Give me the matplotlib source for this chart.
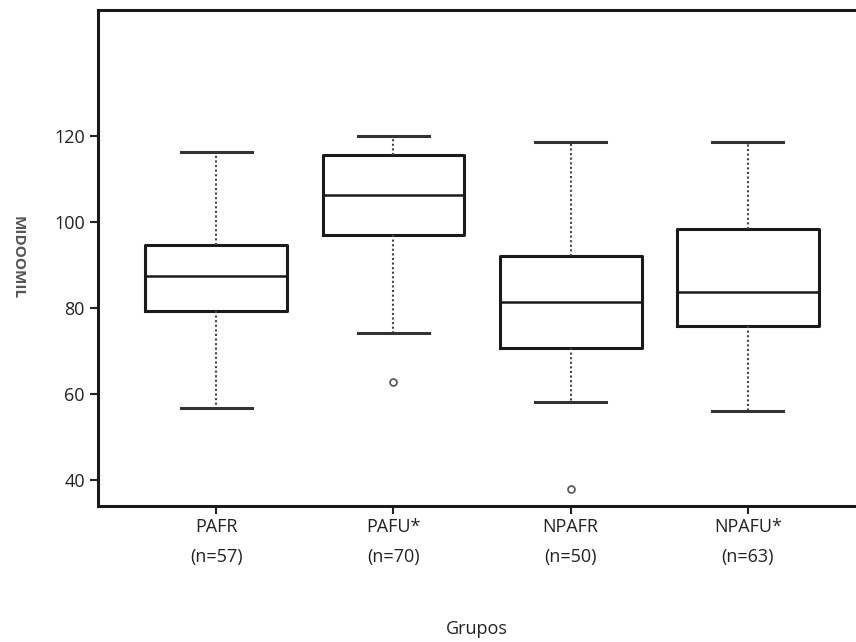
import matplotlib
matplotlib.use("Agg")
import matplotlib.pyplot as plt

plt.rcParams['font.family'] = ['Open Sans', 'DejaVu Sans']

categories = ["PAFR\n(n=57)", "PAFU*\n(n=70)", "NPAFR\n(n=50)", "NPAFU*\n(n=63)"]
whisker_low = [56.7, 74.2, 58.1, 56.0]
q1 = [79.3, 97.0, 70.7, 75.8]
median = [87.4, 106.3, 81.4, 83.7]
q3 = [94.6, 115.6, 92.1, 98.4]
whisker_high = [116.3, 120.0, 118.6, 118.6]
outliers = [[], [62.8], [37.9], []]
y_ticks = [40, 60, 80, 100, 120]

stats = []
for i in range(len(categories)):
    stats.append(dict(whislo=whisker_low[i], q1=q1[i], med=median[i], q3=q3[i],
                      whishi=whisker_high[i], fliers=outliers[i], label=categories[i]))

fig = plt.figure(figsize=(8.56, 6.42), dpi=100)
ax = fig.add_axes([98/856, 136/642, 1 - 98/856, (506-10)/642])

ax.bxp(stats, positions=[1, 2, 3, 4], widths=0.8,
       boxprops=dict(color='#1a1a1a', linewidth=2.2),
       medianprops=dict(color='#1a1a1a', linewidth=1.8),
       whiskerprops=dict(color='#444444', linewidth=1.5, linestyle=(0, (1.0, 1.2))),
       capprops=dict(color='#333333', linewidth=2.2),
       flierprops=dict(marker='o', markersize=5, markerfacecolor='white',
                       markeredgecolor='#555555', markeredgewidth=1.2),
       capwidths=0.4)

ax.set_xlim(0.333, 4.61)
ax.set_ylim(33.95, 149.3)
ax.set_yticks(y_ticks)
ax.set_yticklabels([str(v) for v in y_ticks], fontsize=13, color='#222222')
ax.set_xticks([1, 2, 3, 4])
ax.set_xticklabels(categories, fontsize=13, color='#222222', linespacing=1.8)
ax.tick_params(axis='both', direction='out', length=6, width=1.5, color='#222222')
ax.tick_params(axis='x', pad=3)

for s in ['left', 'top', 'bottom']:
    ax.spines[s].set_linewidth(2.2)
    ax.spines[s].set_color('#1a1a1a')
ax.spines['right'].set_visible(False)

ax.set_xlabel("Grupos", fontsize=13, color='#222222', labelpad=39)
fig.text(18/856, 1 - 258/642, "MIDOOMIL", rotation=270, fontsize=11, fontweight='bold',
         color='#555555', ha='center', va='center')

fig.savefig("out.png", dpi=100)
